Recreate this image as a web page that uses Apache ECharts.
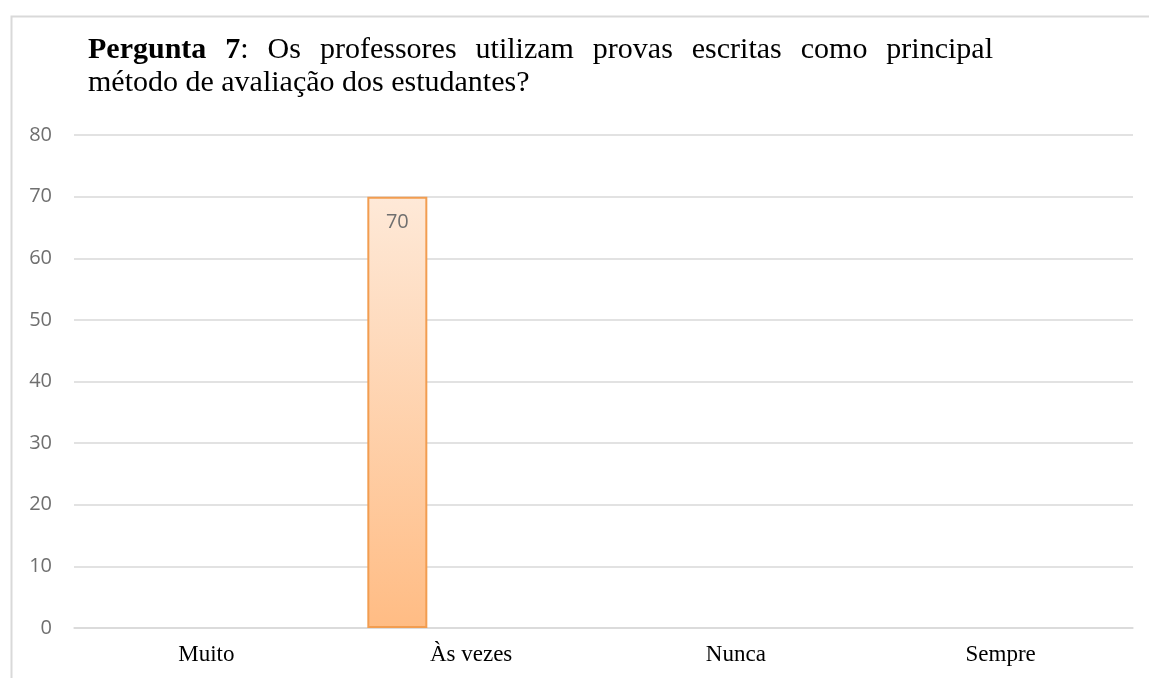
<!DOCTYPE html>
<html>
<head>
<meta charset="utf-8">
<script src="https://cdn.jsdelivr.net/npm/echarts@6/dist/echarts.min.js"></script>
<style>
  html, body { margin: 0; padding: 0; background: #fff; }
  #chart { width: 1149px; height: 678px; }
</style>
</head>
<body>
<div id="chart"></div>
<script>
const categories = ["Muito", "Às vezes", "Nunca", "Sempre"];
const respostas = [0, 70, 0, 0];
const yTicks = [0, 10, 20, 30, 40, 50, 60, 70, 80];

const titleBold = ["Pergunta", "7"];
const titleLine1 = [":", "Os", "professores", "utilizam", "provas", "escritas", "como", "principal"];
const titleLine2 = "método de avaliação dos estudantes?";

const chart = echarts.init(document.getElementById("chart"));

// justify the first title line like the original (Word) text box
const titleFont = 30;
const lineWidth = 905;
const ctx = document.createElement("canvas").getContext("2d");
function textW(s, bold) {
  ctx.font = (bold ? "bold " : "") + titleFont + "px 'Liberation Serif'";
  return ctx.measureText(s).width;
}
let used = textW(titleBold[0], true) + textW(titleBold[1], true);
titleLine1.forEach((w) => (used += textW(w, false)));
const gapW = Math.max(4, (lineWidth - used) / 8);

let line1 = "{b|" + titleBold[0] + "}{s| }{b|" + titleBold[1] + "}{r|:}";
titleLine1.slice(1).forEach((w) => {
  line1 += "{s| }{r|" + w + "}";
});

const serifText = { fontFamily: "Liberation Serif", fontSize: titleFont, color: "#000", lineHeight: 33 };

const series = [
  {
    name: "Respostas",
    type: "bar",
    barWidth: 60,
    barGap: "23%",
    data: respostas.map((v) => (v === 0 ? { value: v, itemStyle: { borderWidth: 0 } } : v)),
    itemStyle: {
      color: new echarts.graphic.LinearGradient(0, 0, 0, 1, [
        { offset: 0, color: "#fee9d8" },
        { offset: 1, color: "#ffbc84" },
      ]),
      borderColor: "#f29d50",
      borderWidth: 2,
    },
    label: {
      show: true,
      position: "insideTop",
      distance: 16,
      color: "#6f6f6f",
      fontSize: 20,
      fontFamily: "Open Sans",
      formatter: (p) => (p.value ? String(p.value) : ""),
    },
  },
  { name: "s2", type: "bar", barWidth: 60, data: [null, null, null, null] },
  { name: "s3", type: "bar", barWidth: 60, data: [null, null, null, null] },
];

const option = {
  backgroundColor: "#fff",
  animation: false,
  graphic: [
    {
      type: "rect",
      left: 9,
      top: 14,
      shape: { width: 1300, height: 800 },
      style: { fill: "none", stroke: "#d9d9d9", lineWidth: 2 },
      z: 0,
    },
  ],
  title: [
    {
      left: 88,
      top: 34,
      padding: 0,
      text: line1 + "\n{r|" + titleLine2 + "}",
      textStyle: {
        fontWeight: "normal",
        rich: {
          b: Object.assign({}, serifText, { fontWeight: "bold" }),
          r: Object.assign({}, serifText, { fontWeight: "normal" }),
          s: Object.assign({}, serifText, { fontWeight: "normal", width: gapW }),
        },
      },
    },
  ],
  grid: { left: 74, right: 16, top: 135, bottom: 50 },
  xAxis: {
    type: "category",
    data: categories,
    axisLine: { lineStyle: { color: "#d9d9d9", width: 1.5 } },
    axisTick: { show: false },
    axisLabel: { color: "#000", fontFamily: "Liberation Serif", fontSize: 23, margin: 15 },
  },
  yAxis: {
    type: "value",
    min: yTicks[0],
    max: yTicks[yTicks.length - 1],
    interval: 10,
    axisLine: { show: false },
    axisTick: { show: false },
    axisLabel: { color: "#6f6f6f", fontFamily: "Open Sans", fontSize: 20, margin: 22 },
    splitLine: { lineStyle: { color: "#d9d9d9", width: 1.5 } },
  },
  series: series,
};

chart.setOption(option);
</script>
</body>
</html>
